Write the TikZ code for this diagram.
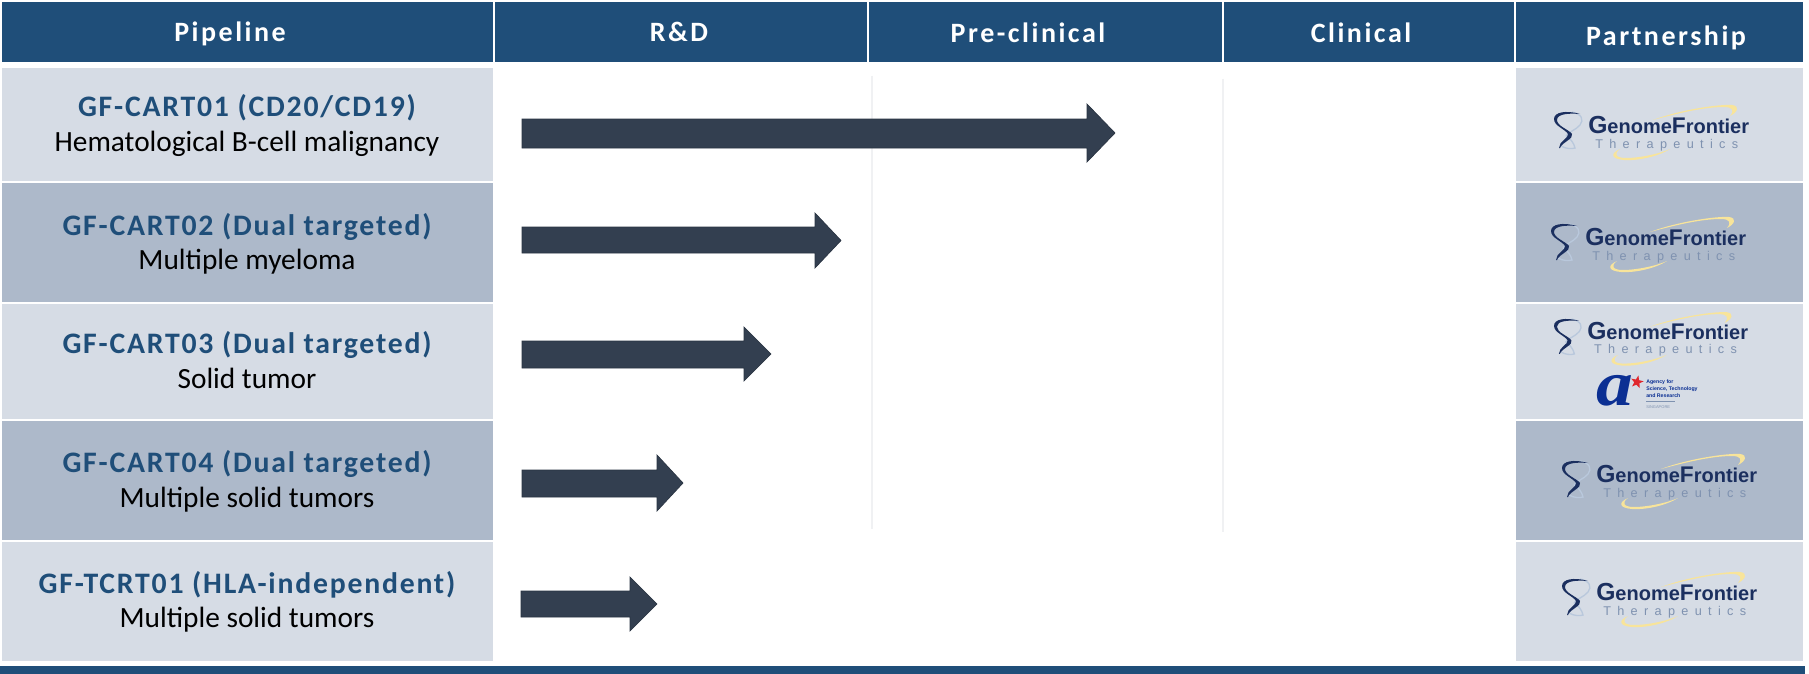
\documentclass[tikz,border=0pt]{standalone}
\usepackage{fontspec}
\usetikzlibrary{shapes.geometric}
\setmainfont{Carlito}
\newfontfamily\hdrfont[LetterSpace=9]{Carlito}
\newfontfamily\ttlfont[LetterSpace=6]{Carlito}
\newfontfamily\logofont{Liberation Sans}
\newfontfamily\logospaced[LetterSpace=50]{Liberation Sans}
\newfontfamily\astarfont{Liberation Serif}
\definecolor{hdrblue}{HTML}{1F4E79}
\definecolor{rowlight}{HTML}{D6DCE5}
\definecolor{rowdark}{HTML}{ADB9CA}
\definecolor{arrowfill}{HTML}{333F50}
\definecolor{arrowedge}{HTML}{2A3442}
\definecolor{gridgrey}{HTML}{F0F1F3}
\definecolor{lognavy}{HTML}{1B2F5F}
\definecolor{logther}{HTML}{7F92B0}
\definecolor{loglite}{HTML}{B9C8DC}
\definecolor{logyel}{HTML}{F8E49A}
\definecolor{astarblue}{HTML}{0B2F93}
\definecolor{astarred}{HTML}{E0282E}
\tikzset{
  x=0.75pt,y=-0.75pt,
  hdrtext/.style={text=white,font=\hdrfont\bfseries\fontsize{21}{24}\selectfont,inner sep=0pt},
  ttltext/.style={anchor=base,text=hdrblue,font=\ttlfont\bfseries\fontsize{22.3}{25}\selectfont,inner sep=0pt},
  subtext/.style={anchor=base,text=black,font=\fontsize{22}{25}\selectfont,inner sep=0pt},
  pipearrow/.style={fill=arrowfill,draw=arrowedge,line width=0.5pt},
  gridline/.style={draw=gridgrey,line width=1.2pt},
}
% #1 name #2 colour #3 x #4 y #5 w #6 h
\newcommand{\cellbox}[6]{\node[fill=#2,draw=none,anchor=north west,inner sep=0pt,minimum width=#5*0.75pt,minimum height=#6*0.75pt] (#1) at (#3,#4) {};}
% #1 x, #2 y, #3 scale, #4 name
\newcommand{\gflogo}[4]{%
  \begin{scope}[shift={(#1,#2)},scale=#3]
    \fill[logyel] (99,8) .. controls (125,-2) and (165,-8) .. (178,-7) .. controls (186,-6) and (184,0) .. (176,4) .. controls (181,-2) and (178,-5) .. (170,-5) .. controls (150,-5) and (125,1) .. (99,8) -- cycle;
    \fill[logyel] (66,37) .. controls (55,42) and (58,47) .. (70,48) .. controls (85,49) and (105,44) .. (116,37) .. controls (105,42) and (85,46) .. (72,46) .. controls (62,46) and (59,42) .. (66,37) -- cycle;
    \draw[loglite,line width=1pt] (18,0) .. controls (28,2) and (30,8) .. (26,13) .. controls (22,18) and (14,20) .. (12,24);
    \draw[loglite,line width=1pt] (7,34) .. controls (12,37) and (18,37) .. (21,36) .. controls (20,31) and (16,26) .. (12,24);
    \fill[lognavy] (0,7) .. controls (0,0) and (12,-2) .. (26,2) .. controls (14,1) and (3,2) .. (3,8) .. controls (3,14) and (14,17) .. (18,22) .. controls (20,27) and (8,30) .. (6,36) -- (5,36) .. controls (5,29) and (15,26) .. (14,22) .. controls (11,17) and (0,14) .. (0,7) -- cycle;
    \node[anchor=base west,inner sep=0pt,text=lognavy,font=\logofont\bfseries\fontsize{15}{16}\selectfont] (#4main) at (34,21) {\fontsize{18.5}{16}\selectfont G\fontsize{15}{16}\selectfont enome\fontsize{17}{16}\selectfont F\fontsize{15}{16}\selectfont rontier};
    \node[anchor=base west,inner sep=0pt,text=logther,font=\logospaced\fontsize{9.5}{10}\selectfont] (#4sub) at (41,36) {Therapeutics};
  \end{scope}}
\newcommand{\arrowshape}[7]{% x0 x1 xb yt yb ht hb
  \draw[pipearrow] (#1,#4) -- (#3,#4) -- (#3,#6) -- (#2,{(#6+#7)/2}) -- (#3,#7) -- (#3,#5) -- (#1,#5) -- cycle;}
\begin{document}
\begin{tikzpicture}
\useasboundingbox (0,0) rectangle (1809,674);
\fill[white] (0,0) rectangle (1809,674);
% header cells
\cellbox{hpipe}{hdrblue}{2}{2}{491}{60}
\cellbox{hrd}{hdrblue}{495}{2}{372}{60}
\cellbox{hpre}{hdrblue}{869}{2}{353}{60}
\cellbox{hclin}{hdrblue}{1224}{2}{290}{60}
\cellbox{hpart}{hdrblue}{1516}{2}{287}{60}
\node[hdrtext] (tpipe) at (230,34) {Pipeline};
\node[hdrtext] (trd) at (679,32) {R\&D};
\node[hdrtext] (tpre) at (1028,33) {Pre-clinical};
\node[hdrtext] (tclin) at (1361,33) {Clinical};
\node[hdrtext] (tpart) at (1666,38) {Partnership};
% row cells
\cellbox{r1}{rowlight}{2}{68}{491}{113}
\cellbox{r2}{rowdark}{2}{183}{491}{119}
\cellbox{r3}{rowlight}{2}{304}{491}{115}
\cellbox{r4}{rowdark}{2}{421}{491}{119}
\cellbox{r5}{rowlight}{2}{542}{491}{119}
\cellbox{p1}{rowlight}{1516}{68}{287}{113}
\cellbox{p2}{rowdark}{1516}{183}{287}{119}
\cellbox{p3}{rowlight}{1516}{304}{287}{115}
\cellbox{p4}{rowdark}{1516}{421}{287}{119}
\cellbox{p5}{rowlight}{1516}{542}{287}{119}
% row text
\node[ttltext] (t1) at (247,116) {GF-CART01 (CD20/CD19)};
\node[subtext] (s1) at (247,151) {Hematological B-cell malignancy};
\node[ttltext] (t2) at (247,235) {GF-CART02 (Dual targeted)};
\node[subtext] (s2) at (247,269) {Multiple myeloma};
\node[ttltext] (t3) at (247,353) {GF-CART03 (Dual targeted)};
\node[subtext] (s3) at (247,388) {Solid tumor};
\node[ttltext] (t4) at (247,472) {GF-CART04 (Dual targeted)};
\node[subtext] (s4) at (247,507) {Multiple solid tumors};
\node[ttltext] (t5) at (247,593) {GF-TCRT01 (HLA-independent)};
\node[subtext] (s5) at (247,627) {Multiple solid tumors};
% grid lines
\draw[gridline] (872,76) -- (872,529);
\draw[gridline] (1223,79) -- (1223,532);
% arrows
\arrowshape{522}{1115}{1087}{119}{148}{104}{162}
\arrowshape{522}{841}{815}{227}{253}{213}{268}
\arrowshape{522}{771}{744}{341}{368}{327}{381}
\arrowshape{522}{683}{657}{470}{497}{455}{511}
\arrowshape{521}{657}{630}{591}{617}{577}{631}
% logos
\gflogo{1554}{112}{1}{a}
\gflogo{1551}{224}{1}{b}
\gflogo{1554}{319}{0.97}{c}
\gflogo{1562}{461}{1}{d}
\gflogo{1562}{579}{1}{e}
% A*STAR
\node[anchor=center,inner sep=0pt,text=astarblue,xscale=1.15,font=\astarfont\bfseries\itshape\fontsize{48}{48}\selectfont] (astara) at (1615,391) {a};
\node[star,star points=5,star point ratio=2.4,fill=astarred,inner sep=0pt,minimum size=10pt,rotate=-12] (astars) at (1637,382) {};
\node[anchor=base west,inner sep=0pt,text=astarblue,font=\logofont\bfseries\fontsize{3.9}{4}\selectfont] (astart1) at (1646,383) {Agency for};
\node[anchor=base west,inner sep=0pt,text=astarblue,font=\logofont\bfseries\fontsize{3.9}{4}\selectfont] (astart2) at (1646,390) {Science, Technology};
\node[anchor=base west,inner sep=0pt,text=astarblue,font=\logofont\bfseries\fontsize{3.9}{4}\selectfont] (astart3) at (1646,397) {and Research};
\node[anchor=base west,inner sep=0pt,text=logther,font=\logofont\fontsize{3}{3}\selectfont] (astarg) at (1646,408) {SINGAPORE};
\draw[logther,line width=0.3pt] (1646,401) -- (1675,401);
% bottom bar
\fill[hdrblue] (0,666) rectangle (1805,674);
\end{tikzpicture}
\end{document}
